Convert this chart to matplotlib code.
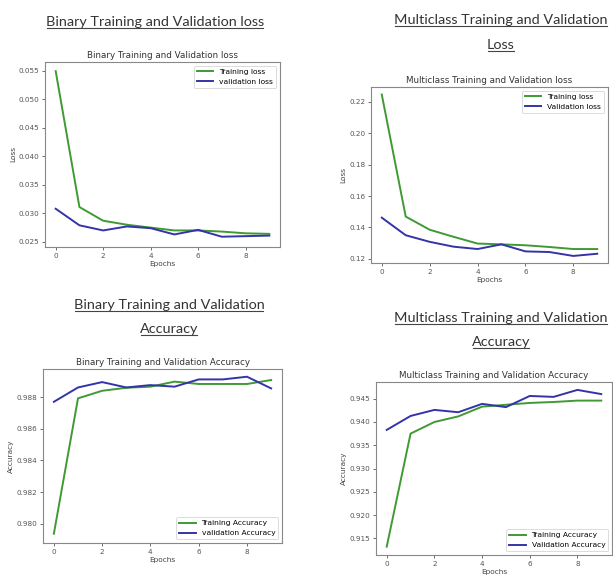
import numpy as np
import matplotlib
matplotlib.use("Agg")
import matplotlib.pyplot as plt
from matplotlib.lines import Line2D

# epochs and per-epoch values
epochs = list(range(10))

bin_train_loss = [0.0549, 0.0311, 0.0287, 0.0280, 0.0275, 0.0270, 0.0270, 0.0268, 0.0265, 0.0264]
bin_val_loss = [0.0308, 0.0279, 0.0270, 0.0277, 0.0274, 0.0263, 0.0271, 0.0259, 0.0260, 0.0261]

multi_train_loss = [0.2247, 0.1469, 0.1385, 0.1340, 0.1297, 0.1292, 0.1286, 0.1275, 0.1262, 0.1262]
multi_val_loss = [0.1462, 0.1350, 0.1308, 0.1277, 0.1262, 0.1292, 0.1247, 0.1243, 0.1218, 0.1232]

bin_train_acc = [0.97936, 0.98794, 0.98842, 0.98861, 0.98868, 0.98900, 0.98885, 0.98885, 0.98885, 0.98910]
bin_val_acc = [0.98772, 0.98863, 0.98897, 0.98863, 0.98878, 0.98868, 0.98914, 0.98914, 0.98931, 0.98857]

multi_train_acc = [0.9132, 0.9375, 0.9400, 0.9412, 0.9433, 0.9437, 0.9441, 0.9443, 0.9446, 0.9446]
multi_val_acc = [0.9383, 0.9413, 0.9426, 0.9421, 0.9439, 0.9432, 0.9456, 0.9454, 0.9469, 0.9460]

W, H = 613, 575
fig = plt.figure(figsize=(W / 100, H / 100), dpi=100)

green = "#3f9a34"
blue = "#3434a8"


def px_axes(left, top, right, bottom):
    return fig.add_axes([left / W, 1 - bottom / H, (right - left) / W, (bottom - top) / H])


def panel(ax, tr, va, title, ylabel, labels, loc, yticks, ylim):
    ax.plot(epochs, tr, color=green, lw=1.4, label=labels[0])
    ax.plot(epochs, va, color=blue, lw=1.4, label=labels[1])
    ax.set_title(title, fontsize=6.3, pad=3, color="#333333")
    ax.set_xlabel("Epochs", fontsize=5.3, labelpad=2, color="#444444")
    ax.set_ylabel(ylabel, fontsize=5.3, labelpad=2, color="#444444")
    ax.set_xticks([0, 2, 4, 6, 8])
    ax.set_yticks(yticks)
    ax.set_ylim(*ylim)
    ax.tick_params(labelsize=5.2, length=2, width=0.6, pad=2, colors="#555555")
    for s in ax.spines.values():
        s.set_color("#888888")
        s.set_linewidth(0.8)
    leg = ax.legend(loc=loc, fontsize=5.4, frameon=True, handlelength=2.2)
    leg.get_frame().set_edgecolor("#cccccc")
    leg.get_frame().set_linewidth(0.6)


ax1 = px_axes(45, 62, 280, 247)
panel(ax1, bin_train_loss, bin_val_loss, "Binary Training and Validation loss", "Loss",
      ["Training loss", "validation loss"], "upper right",
      [0.025, 0.030, 0.035, 0.040, 0.045, 0.050, 0.055], (0.0241, 0.0565))
ax1.yaxis.set_major_formatter(matplotlib.ticker.FormatStrFormatter("%.3f"))

ax2 = px_axes(371, 87, 608, 263)
panel(ax2, multi_train_loss, multi_val_loss, "Multiclass Training and Validation loss", "Loss",
      ["Training loss", "Validation loss"], "upper right",
      [0.12, 0.14, 0.16, 0.18, 0.20, 0.22], (0.1173, 0.2295))

ax3 = px_axes(43, 369, 282, 543)
panel(ax3, bin_train_acc, bin_val_acc, "Binary Training and Validation Accuracy", "Accuracy",
      ["Training Accuracy", "validation Accuracy"], "lower right",
      [0.980, 0.982, 0.984, 0.986, 0.988], (0.97877, 0.9898))
ax3.yaxis.set_major_formatter(matplotlib.ticker.FormatStrFormatter("%.3f"))

ax4 = px_axes(376, 382, 612, 555)
panel(ax4, multi_train_acc, multi_val_acc, "Multiclass Training and Validation Accuracy", "Accuracy",
      ["Training Accuracy", "Validation Accuracy"], "lower right",
      [0.915, 0.920, 0.925, 0.930, 0.935, 0.940, 0.945], (0.9114, 0.9486))

# underlined document headings above each chart (x centre, baseline y in px)
headings = [
    (155, 26, "Binary Training and Validation loss"),
    (501, 24, "Multiclass Training and Validation"),
    (501, 49, "Loss"),
    (169, 309, "Binary Training and Validation"),
    (169, 333, "Accuracy"),
    (501, 322, "Multiclass Training and Validation"),
    (501, 346, "Accuracy"),
]
texts = []
for x, y, s in headings:
    t = fig.text(x / W, 1 - y / H, s, ha="center", va="baseline", fontsize=10.4,
                 family=["Lato", "DejaVu Sans"], color="#333333")
    texts.append((t, y))

fig.canvas.draw()
r = fig.canvas.get_renderer()
for t, y in texts:
    bb = t.get_window_extent(r)
    yl = 1 - (y + 2) / H
    fig.add_artist(Line2D([(bb.x0 + 1) / W, (bb.x1 - 1) / W], [yl, yl], color="#444444", lw=0.8))

fig.savefig("out.png", dpi=100)
